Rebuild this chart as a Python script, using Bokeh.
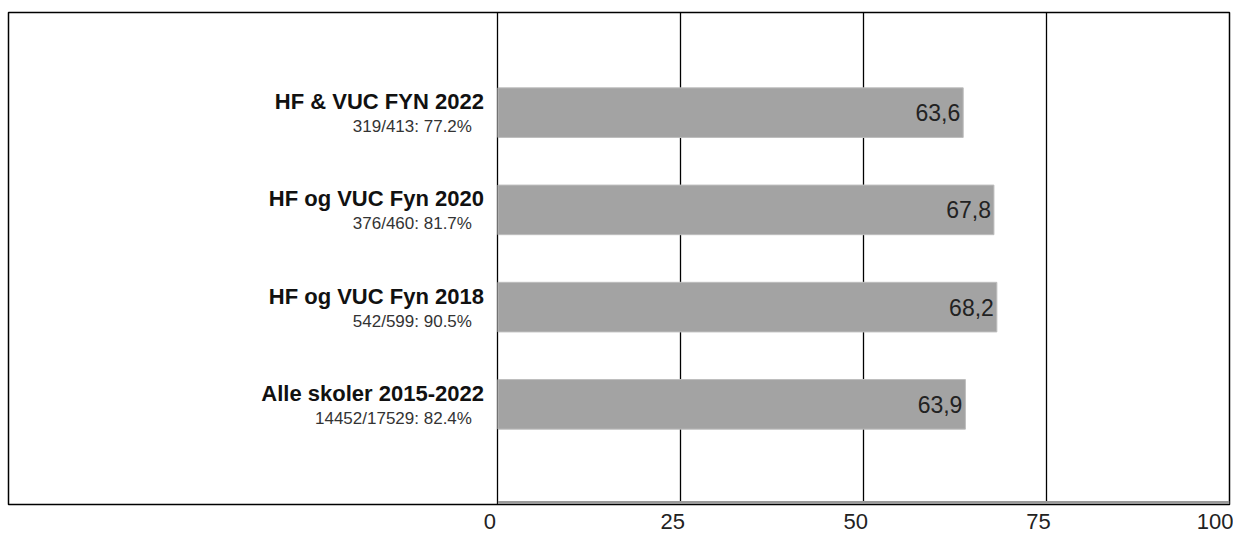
from bokeh.plotting import figure
from bokeh.models import Range1d, FactorRange, ColumnDataSource, FixedTicker, LinearAxis
from bokeh.core.properties import value
from bokeh.embed import file_html
from bokeh.resources import INLINE

# Data (top to bottom in the chart)
labels = ["HF & VUC FYN 2022", "HF og VUC Fyn 2020", "HF og VUC Fyn 2018", "Alle skoler 2015-2022"]
sublabels = ["319/413: 77.2%", "376/460: 81.7%", "542/599: 90.5%", "14452/17529: 82.4%"]
values = [63.6, 67.8, 68.2, 63.9]
x_ticks = [0, 25, 50, 75, 100]

value_text = [f"{v:.1f}".replace(".", ",") for v in values]
source = ColumnDataSource(dict(label=labels, sub=sublabels, val=values, vtxt=value_text,
                               zero=[0] * len(values)))

FONT = value("Liberation Sans")
X0 = -66.9
SHIFT = 1.1  # tick labels sit slightly left of their ticks
PAD = 0.265

p = figure(width=1233, height=534, output_backend="svg", toolbar_location=None,
           x_range=Range1d(X0, 100),
           y_range=FactorRange(*list(reversed(labels)), range_padding=PAD),
           min_border_left=8, min_border_right=4, min_border_top=12, min_border_bottom=30)

p.outline_line_color = "black"
p.outline_line_width = 1.5
p.background_fill_color = "white"

# grid
p.ygrid.grid_line_color = None
p.xgrid.ticker = FixedTicker(ticks=[0, 25, 50, 75])
p.xgrid.grid_line_color = "black"
p.xgrid.grid_line_width = 1.3

# axes
p.yaxis.visible = False
p.xaxis.visible = False
p.extra_x_ranges = {"lab": Range1d(X0 + SHIFT, 100 + SHIFT)}
xl = LinearAxis(x_range_name="lab", ticker=FixedTicker(ticks=x_ticks))
xl.axis_line_color = None
xl.major_tick_line_color = None
xl.minor_tick_line_color = None
xl.major_label_standoff = 3
xl.major_label_text_font = "Liberation Sans"
xl.major_label_text_font_size = "22px"
xl.major_label_text_color = "#222222"
p.add_layout(xl, "below")

# grey base line of the value scale (just above the frame bottom)
bottom_factor = labels[-1]
base_y = (bottom_factor, -0.5 - 2 * PAD + 0.02)
p.segment(x0=[x_ticks[0]], x1=[x_ticks[-1]], y0=[base_y], y1=[base_y],
          line_color="#9a9a9a", line_width=3)

# bars
p.hbar(y="label", left="zero", right="val", height=0.51, source=source,
       fill_color="#a3a3a3", line_color="#bdbdbd", line_width=1)

# value labels
p.text(x="val", y="label", text="vtxt", source=source, x_offset=-3,
       text_align="right", text_baseline="middle", text_font=FONT,
       text_font_size="23px", text_color="#222222")

# category labels
p.text(x="zero", y="label", text="label", source=source, x_offset=-14, y_offset=-11,
       text_align="right", text_baseline="middle", text_font=FONT,
       text_font_size="22px", text_font_style="bold", text_color="#111111")
p.text(x="zero", y="label", text="sub", source=source, x_offset=-26, y_offset=14,
       text_align="right", text_baseline="middle", text_font=FONT,
       text_font_size="17px", text_color="#333333")

open("out.html", "w").write(file_html(p, INLINE))
